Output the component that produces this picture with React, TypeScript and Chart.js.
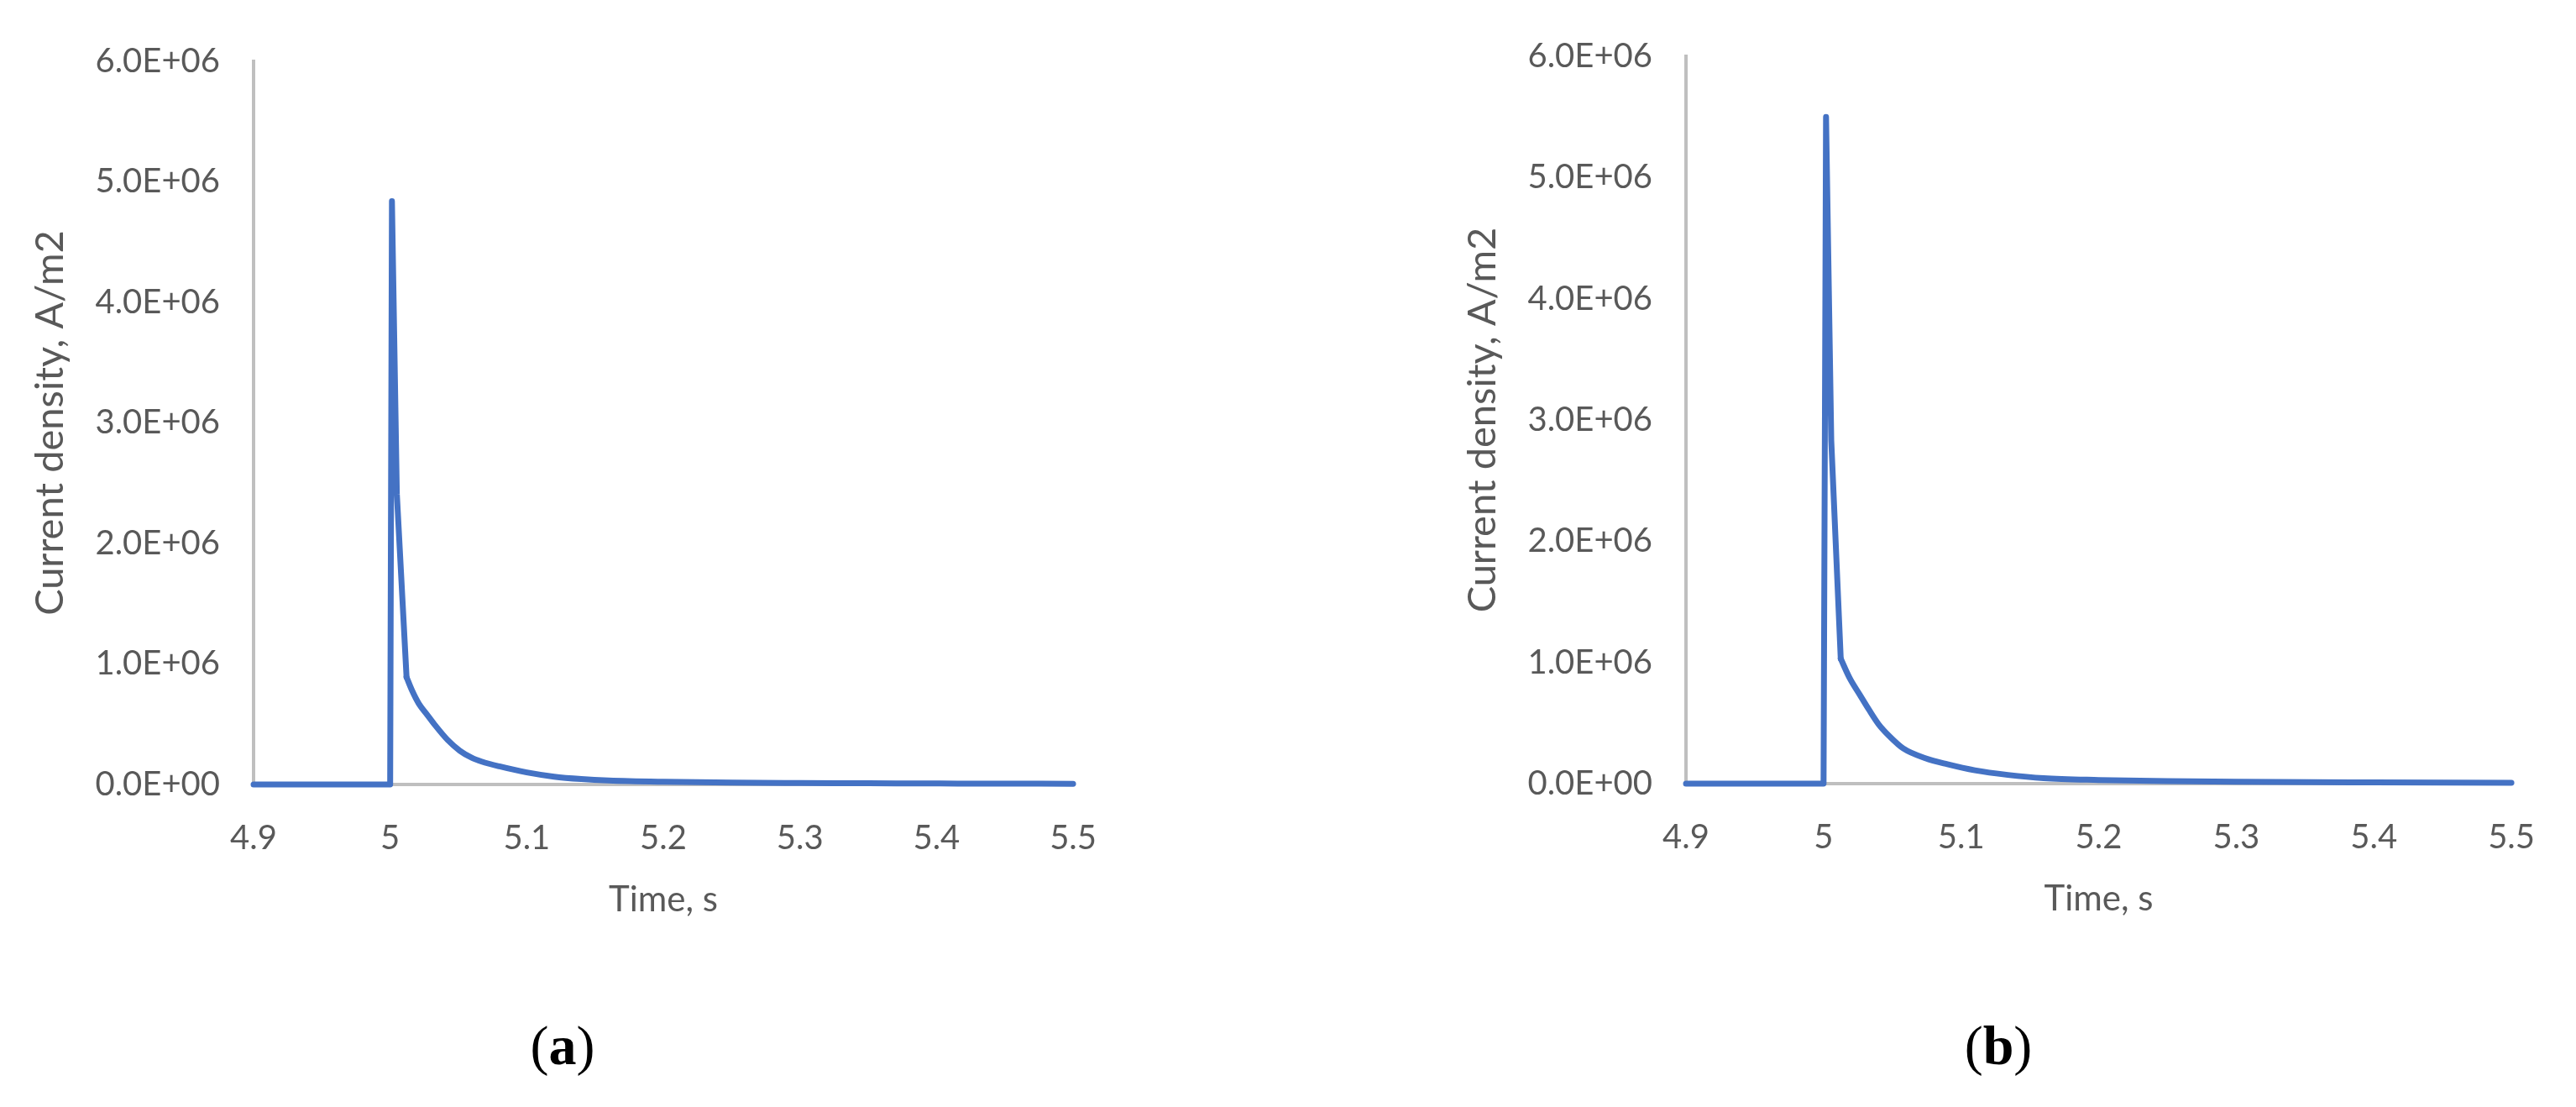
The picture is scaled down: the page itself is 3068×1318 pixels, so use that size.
import React, { useEffect, useRef } from "react";
import { Chart, registerables } from "chart.js";

Chart.register(...registerables);

// ---- data ----
const xTickLabels = ["4.9", "5", "5.1", "5.2", "5.3", "5.4", "5.5"];
const yTickLabels = ["0.0E+00", "1.0E+06", "2.0E+06", "3.0E+06", "4.0E+06", "5.0E+06", "6.0E+06"];

const timeA = [4.9, 5.0, 5.0013, 5.0049, 5.012, 5.016, 5.021, 5.027, 5.033, 5.042, 5.051, 5.06, 5.067, 5.08, 5.1, 5.12, 5.14, 5.16, 5.2, 5.25, 5.3, 5.35, 5.4, 5.45, 5.5];
const densityA = [0, 0, 4.84e6, 2.41e6, 0.89e6, 0.78e6, 0.67e6, 0.58e6, 0.49e6, 0.37e6, 0.28e6, 0.22e6, 0.19e6, 0.15e6, 0.1e6, 0.065e6, 0.045e6, 0.033e6, 0.022e6, 0.015e6, 0.012e6, 0.01e6, 0.008e6, 0.007e6, 0.006e6];

const timeB = [4.9, 5.0, 5.0018, 5.0056, 5.0125, 5.019, 5.0265, 5.033, 5.04, 5.048, 5.058, 5.074, 5.09, 5.11, 5.134, 5.16, 5.2, 5.25, 5.3, 5.4, 5.5];
const densityB = [0, 0, 5.5e6, 2.83e6, 1.03e6, 0.87e6, 0.73e6, 0.61e6, 0.49e6, 0.39e6, 0.29e6, 0.21e6, 0.16e6, 0.11e6, 0.072e6, 0.045e6, 0.03e6, 0.02e6, 0.015e6, 0.01e6, 0.007e6];

// index of the knee where the sharp spike turns into the smooth decay
const KNEE_INDEX = 4;

const xTitle = "Time, s";
const yTitle = "Current density, A/m2";

const TEXT = "#595959";
const AXIS = "#BFBFBF";
const LINE = "#4472C4";
const TICK_FONT = { family: "Lato", size: 40 };
const X_TITLE_FONT = { family: "Lato", size: 42 };
const Y_TITLE_FONT = { family: "Lato", size: 47 };

interface PanelProps {
  times: number[];
  values: number[];
  left: number;
  areaWidth: number;
  areaTop: number;
  areaBottom: number;
}

const Y_AXIS_W = 302;
const X_AXIS_H = 180;
const CANVAS_H = 1140;
const PAD_R = 45;

function Panel({ times, values, left, areaWidth, areaTop, areaBottom }: PanelProps) {
  const ref = useRef<HTMLCanvasElement | null>(null);
  const width = Y_AXIS_W + areaWidth + PAD_R;
  useEffect(() => {
    if (!ref.current) return;
    const pts = times.map((t, i) => ({ x: t, y: values[i] }));
    const common = {
      borderColor: LINE,
      borderWidth: 7,
      pointRadius: 0,
      fill: false,
      clip: false,
      borderJoinStyle: "round",
      borderCapStyle: "round",
    };
    const chart = new Chart(ref.current, {
      type: "line",
      data: {
        datasets: [
          { ...common, data: pts.slice(0, KNEE_INDEX + 1), tension: 0 },
          { ...common, data: pts.slice(KNEE_INDEX), cubicInterpolationMode: "monotone" },
        ],
      },
      options: {
        responsive: false,
        animation: false,
        devicePixelRatio: 1,
        layout: {
          padding: { left: 0, right: PAD_R, top: areaTop, bottom: CANVAS_H - areaBottom - X_AXIS_H },
        },
        plugins: { legend: { display: false }, tooltip: { enabled: false } },
        scales: {
          x: {
            type: "linear",
            min: 4.9,
            max: 5.5,
            ticks: {
              stepSize: 0.1,
              autoSkip: false,
              maxRotation: 0,
              color: TEXT,
              font: TICK_FONT,
              padding: 40,
              callback: (_v: any, i: number) => xTickLabels[i],
            },
            grid: { display: false, drawTicks: false },
            border: { display: true, color: AXIS, width: 4 },
            title: { display: true, text: xTitle, color: TEXT, font: X_TITLE_FONT, padding: { top: 0, bottom: 17 } },
            afterFit: (s: any) => {
              s.height = X_AXIS_H;
            },
          },
          y: {
            type: "linear",
            min: 0,
            max: 6e6,
            ticks: {
              stepSize: 1e6,
              color: TEXT,
              font: TICK_FONT,
              padding: 40,
              callback: (_v: any, i: number) => yTickLabels[i],
            },
            grid: { display: false, drawTicks: false },
            border: { display: true, color: AXIS, width: 4 },
            title: { display: true, text: yTitle, color: TEXT, font: Y_TITLE_FONT, padding: { top: 32, bottom: 0 } },
            afterFit: (s: any) => {
              s.width = Y_AXIS_W;
            },
          },
        },
      } as any,
    });
    return () => chart.destroy();
  }, []);
  return (
    <canvas
      ref={ref}
      width={width}
      height={CANVAS_H}
      style={{ position: "absolute", left, top: 0, width, height: CANVAS_H }}
    />
  );
}

function Caption({ letter, center }: { letter: string; center: number }) {
  return (
    <div
      style={{
        position: "absolute",
        left: center - 100,
        width: 200,
        top: 1205,
        textAlign: "center",
        fontFamily: "'Liberation Serif', serif",
        fontSize: 66,
        lineHeight: "80px",
        color: "#000",
      }}
    >
      (<b>{letter}</b>)
    </div>
  );
}

export default function App() {
  return (
    <div style={{ position: "absolute", left: 0, top: 0, width: 3068, height: 1318, background: "#fff", overflow: "hidden" }}>
      <Panel times={timeA} values={densityA} left={0} areaWidth={999} areaTop={73} areaBottom={934} />
      <Panel times={timeB} values={densityB} left={1706} areaWidth={1006} areaTop={67} areaBottom={933} />
      <Caption letter="a" center={670} />
      <Caption letter="b" center={2380} />
    </div>
  );
}
